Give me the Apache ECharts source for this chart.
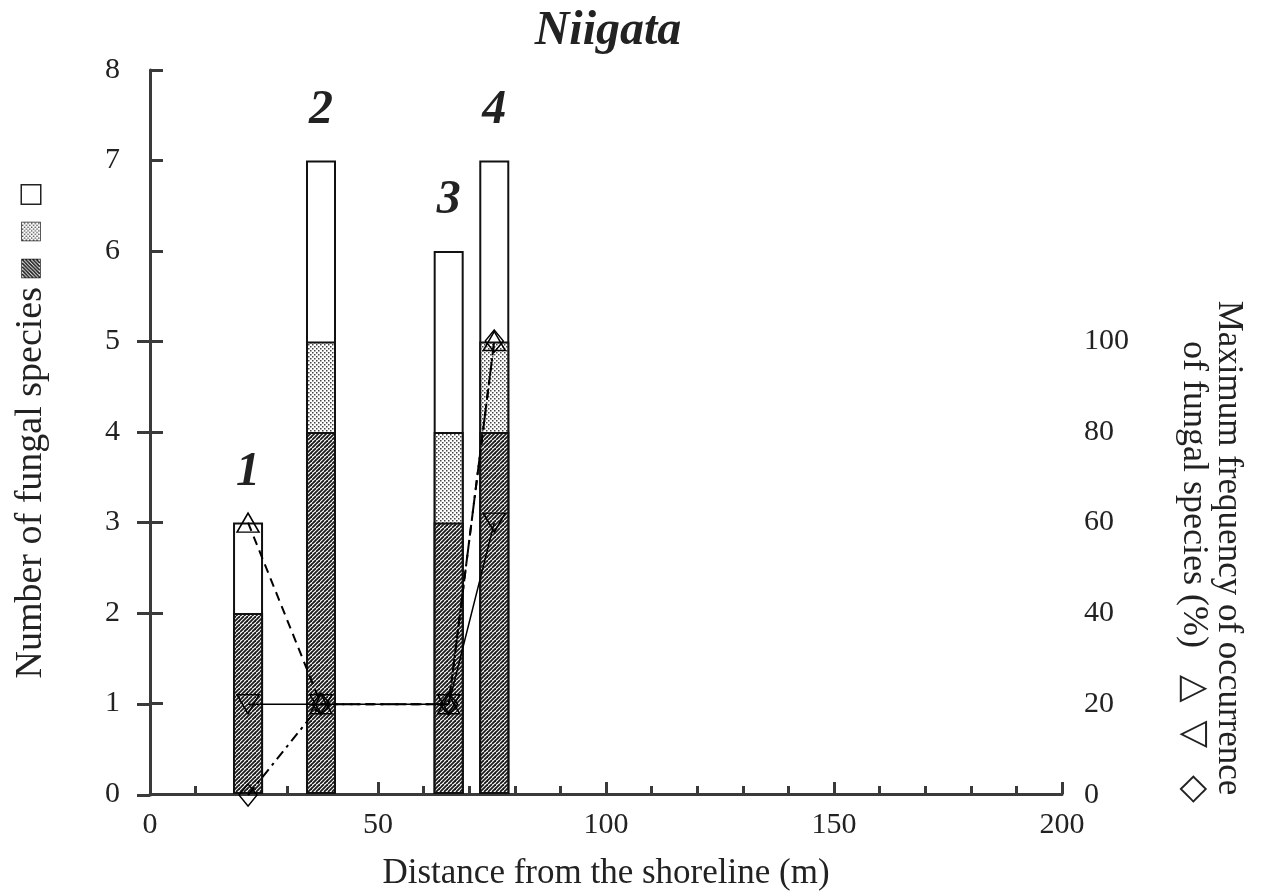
<!DOCTYPE html>
<html>
<head>
<meta charset="utf-8">
<title>Niigata</title>
<script src="https://cdn.jsdelivr.net/npm/echarts@6/dist/echarts.min.js"></script>
<style>
  html, body { margin: 0; padding: 0; background: #fff; }
  #chart { width: 1262px; height: 896px; }
</style>
</head>
<body>
<div id="chart"></div>
<script>
// distance of each site from the shoreline (m)
const distance = [21.5, 37.5, 65.5, 75.5];
const siteLabels = ['1', '2', '3', '4'];
// number of fungal species, in stacking order (bottom to top)
const darkSpecies = [2, 4, 3, 4];
const lightSpecies = [0, 1, 1, 1];
const whiteSpecies = [1, 2, 2, 2];
// maximum frequency of occurrence (%)
const upTriangle = [60, 20, 20, 100];
const downTriangle = [20, 20, 20, 60];
const diamondFreq = [0, 20, 20, 100];

const serif = '"Liberation Serif", "DejaVu Serif", serif';
const axisColor = '#3a3a3a';

function hatchPattern(size) {
  const c = document.createElement('canvas');
  c.width = size; c.height = size;
  const g = c.getContext('2d');
  g.fillStyle = '#fff';
  g.fillRect(0, 0, size, size);
  g.strokeStyle = '#1a1a1a';
  g.lineWidth = 1.8;
  for (let k = -size; k <= size * 2; k += 4) {
    g.beginPath();
    g.moveTo(k, size);
    g.lineTo(k + size, 0);
    g.stroke();
  }
  return c;
}

function dotPattern(size) {
  const c = document.createElement('canvas');
  c.width = size; c.height = size;
  const g = c.getContext('2d');
  g.fillStyle = '#fff';
  g.fillRect(0, 0, size, size);
  g.fillStyle = '#444';
  for (let i = 0; i < size; i += 2) {
    for (let j = (i / 2) % 2 === 0 ? 0 : 2; j < size; j += 4) {
      g.fillRect(j, i, 1.5, 1.5);
    }
  }
  return c;
}

const hatch = hatchPattern(8);
const dots = dotPattern(4);
const hatchKey = hatchPattern(20);
const dotsKey = dotPattern(20);

const pairs = (ys) => ys.map((v, i) => [distance[i], v]);
// stacked tops, so each layer is drawn from 0 and covered by the layer below it
const lightTop = darkSpecies.map((v, i) => v + lightSpecies[i]);
const whiteTop = lightTop.map((v, i) => v + whiteSpecies[i]);

const chart = echarts.init(document.getElementById('chart'));

const barBase = {
  type: 'bar',
  barWidth: 30,
  barGap: '-100%',
  xAxisIndex: 0,
  yAxisIndex: 0
};

const lineBase = {
  type: 'line',
  xAxisIndex: 1,
  yAxisIndex: 1,
  symbolSize: [22, 19],
  z: 5,
  itemStyle: { color: 'rgba(255,255,255,0)', borderColor: '#000', borderWidth: 1.5 }
};

const option = {
  animation: false,
  backgroundColor: '#fff',
  title: {
    text: 'Niigata',
    left: 603,
    top: 3,
    textAlign: 'center',
    textStyle: { fontFamily: serif, fontStyle: 'italic', fontWeight: 'bold', fontSize: 48, color: '#222' }
  },
  grid: [
    { left: 150, right: 200, top: 70, bottom: 101 },
    { left: 150, right: 200, top: 341, bottom: 101 }
  ],
  xAxis: [
    {
      type: 'value', gridIndex: 0, min: 0, max: 200, interval: 50,
      axisLine: { show: true, lineStyle: { color: axisColor, width: 3 } },
      axisTick: { show: true, inside: true, length: 12, lineStyle: { color: axisColor, width: 3 } },
      minorTick: { show: true, splitNumber: 5, length: 8, lineStyle: { color: axisColor, width: 3 } },
      axisLabel: { fontFamily: serif, fontSize: 30, color: '#222', margin: 16 },
      splitLine: { show: false },
      name: 'Distance from the shoreline (m)',
      nameLocation: 'middle',
      nameGap: 62,
      nameTextStyle: { fontFamily: serif, fontSize: 35, color: '#222' }
    },
    {
      type: 'value', gridIndex: 1, min: 0, max: 200, show: false
    }
  ],
  yAxis: [
    {
      type: 'value', gridIndex: 0, min: 0, max: 8, interval: 1,
      axisLine: { show: true, lineStyle: { color: axisColor, width: 3 } },
      axisTick: { show: true, inside: true, length: 13, lineStyle: { color: axisColor, width: 3 } },
      axisLabel: { fontFamily: serif, fontSize: 30, color: '#222', margin: 30 },
      splitLine: { show: false }
    },
    {
      type: 'value', gridIndex: 1, min: 0, max: 100, interval: 20, position: 'right',
      axisLine: { show: true, lineStyle: { color: axisColor, width: 3 } },
      axisTick: { show: true, inside: true, length: 13, lineStyle: { color: axisColor, width: 3 } },
      axisLabel: { fontFamily: serif, fontSize: 30, color: '#222', margin: 22 },
      splitLine: { show: false }
    }
  ],
  graphic: [
    {
      type: 'text',
      x: 31, y: 432,
      rotation: Math.PI / 2,
      style: {
        text: 'Number of fungal species {d|}  {l|}  {w|}',
        font: '38px ' + serif,
        fill: '#222',
        align: 'center',
        verticalAlign: 'middle',
        rich: {
          d: { width: 18, height: 18, backgroundColor: { image: hatchKey }, borderColor: '#222', borderWidth: 1.5 },
          l: { width: 18, height: 18, backgroundColor: { image: dotsKey }, borderColor: '#222', borderWidth: 1.5 },
          w: { width: 18, height: 18, backgroundColor: '#fff', borderColor: '#222', borderWidth: 1.5 }
        }
      }
    },
    {
      type: 'text',
      x: 1228, y: 548,
      rotation: -Math.PI / 2,
      style: {
        text: 'Maximum frequency of occurrence',
        font: '35px ' + serif,
        fill: '#222',
        align: 'center',
        verticalAlign: 'middle'
      }
    },
    {
      type: 'text',
      x: 1193, y: 572,
      rotation: -Math.PI / 2,
      style: {
        text: 'of fungal species (%)   \u25B3  \u25BD   \u25C7',
        font: '36px ' + serif,
        fill: '#222',
        align: 'center',
        verticalAlign: 'middle'
      }
    }
  ],
  series: [
    Object.assign({}, barBase, {
      name: 'white',
      z: 2,
      data: pairs(whiteTop),
      itemStyle: { color: '#fff', borderColor: '#111', borderWidth: 2 },
      label: {
        show: true,
        position: 'top',
        distance: 26,
        formatter: (p) => siteLabels[p.dataIndex],
        fontFamily: serif,
        fontStyle: 'italic',
        fontWeight: 'bold',
        fontSize: 48,
        color: '#222'
      }
    }),
    Object.assign({}, barBase, {
      name: 'light',
      z: 3,
      data: pairs(lightTop),
      itemStyle: { color: { image: dots, repeat: 'repeat' }, borderColor: '#111', borderWidth: 2 }
    }),
    Object.assign({}, barBase, {
      name: 'dark',
      z: 4,
      data: pairs(darkSpecies),
      itemStyle: { color: { image: hatch, repeat: 'repeat' }, borderColor: '#111', borderWidth: 2 }
    }),
    Object.assign({}, lineBase, {
      name: 'up',
      symbol: 'triangle',
      data: pairs(upTriangle),
      lineStyle: { color: '#000', width: 2, type: [9, 6] }
    }),
    Object.assign({}, lineBase, {
      name: 'down',
      symbol: 'triangle',
      symbolRotate: 180,
      data: pairs(downTriangle),
      lineStyle: { color: '#000', width: 1.5, type: 'solid' }
    }),
    Object.assign({}, lineBase, {
      name: 'diamond',
      symbol: 'diamond',
      symbolSize: [18, 22],
      data: pairs(diamondFreq),
      lineStyle: { color: '#000', width: 2, type: [10, 5, 3, 5] }
    })
  ]
};

chart.setOption(option);
</script>
</body>
</html>
